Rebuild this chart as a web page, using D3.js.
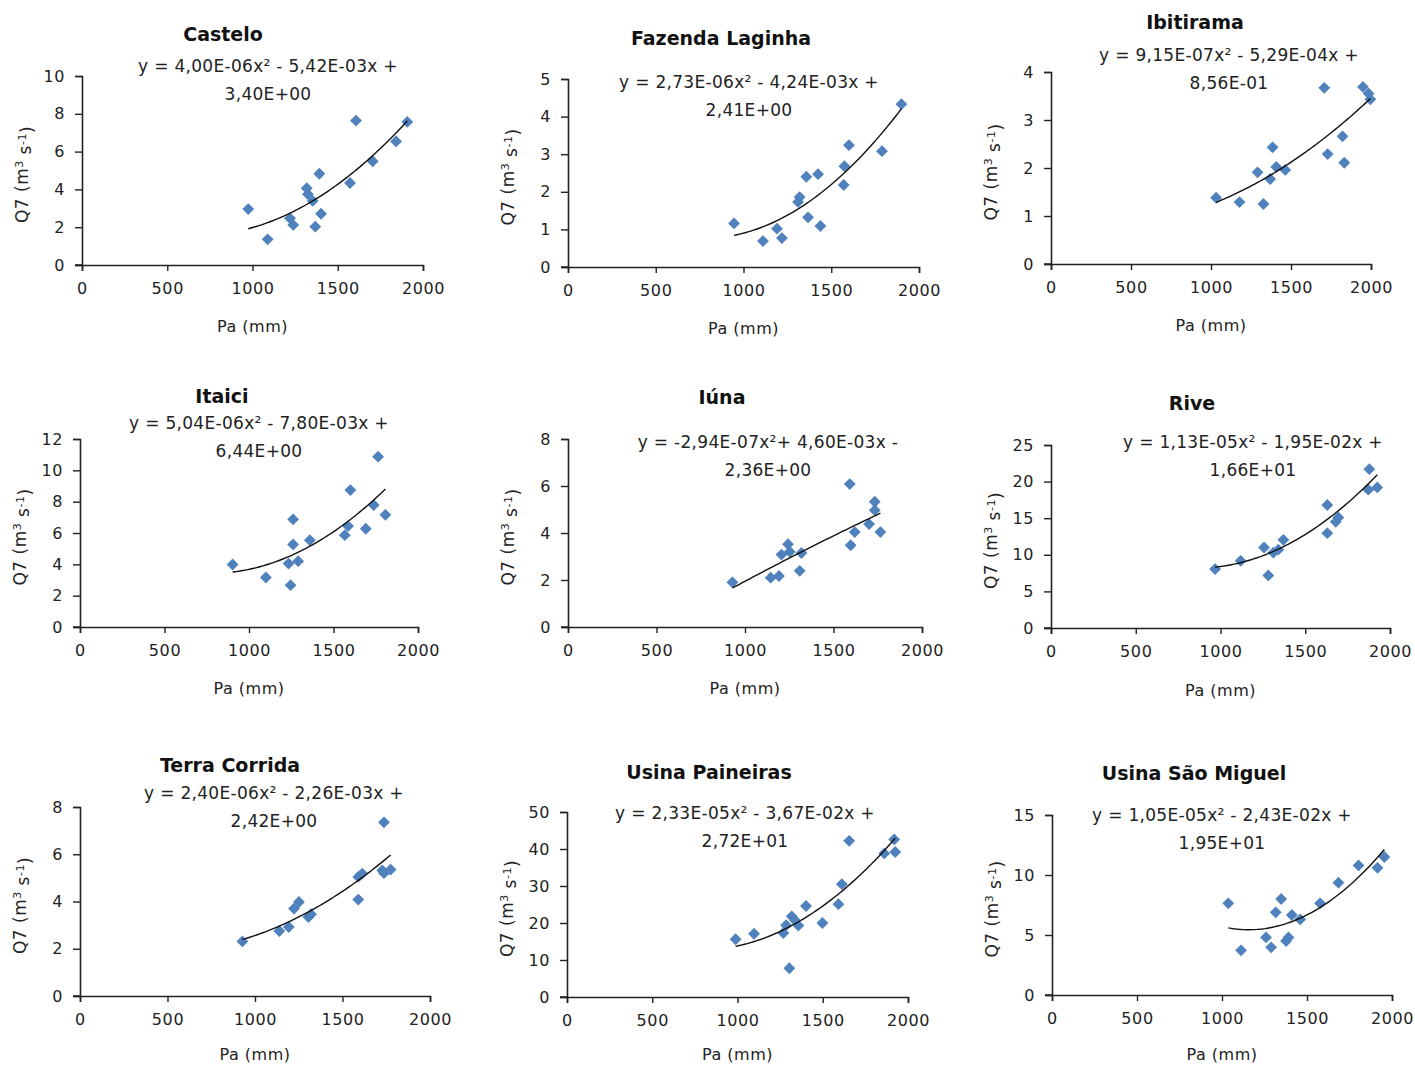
<!DOCTYPE html>
<html>
<head>
<meta charset="utf-8">
<script src="https://cdn.jsdelivr.net/npm/d3@7"></script>
<style>
  body { margin: 0; background: #fff; }
  text { font-family: "DejaVu Sans", Verdana, sans-serif; fill: #222; }
</style>
</head>
<body>
<div id="chart"></div>
<script>
// station names and the values
let stations = ["Castelo", "Fazenda Laginha", "Ibitirama", "Itaici", "Iúna", "Rive",
                "Terra Corrida", "Usina Paineiras", "Usina São Miguel"];

let casteloPa = [975, 1089, 1220, 1239, 1318, 1325, 1353, 1368, 1392, 1402, 1572, 1607, 1705, 1842, 1908];
let casteloQ7 = [2.96, 1.36, 2.47, 2.12, 4.06, 3.75, 3.39, 2.03, 4.83, 2.71, 4.34, 7.64, 5.49, 6.54, 7.57];

let laginhaPa = [946, 1111, 1191, 1219, 1311, 1320, 1358, 1368, 1425, 1438, 1571, 1575, 1601, 1789, 1900];
let laginhaQ7 = [1.16, 0.69, 1.02, 0.77, 1.73, 1.86, 2.40, 1.32, 2.47, 1.09, 2.18, 2.68, 3.24, 3.08, 4.33];

let ibitiramaPa = [1032, 1178, 1291, 1328, 1370, 1385, 1408, 1464, 1708, 1729, 1822, 1833, 1950, 1985, 1996];
let ibitiramaQ7 = [1.38, 1.29, 1.91, 1.25, 1.77, 2.43, 2.02, 1.96, 3.67, 2.29, 2.66, 2.11, 3.69, 3.55, 3.43];

let itaiciPa = [903, 1100, 1234, 1246, 1261, 1261, 1291, 1360, 1567, 1586, 1600, 1691, 1738, 1764, 1807];
let itaiciQ7 = [3.99, 3.16, 4.05, 2.67, 6.87, 5.27, 4.20, 5.54, 5.86, 6.44, 8.74, 6.27, 7.78, 10.87, 7.16];

let iunaPa = [929, 1145, 1192, 1206, 1243, 1253, 1309, 1319, 1592, 1597, 1620, 1701, 1733, 1733, 1765];
let iunaQ7 = [1.90, 2.10, 2.17, 3.08, 3.52, 3.20, 2.39, 3.15, 6.08, 3.48, 4.04, 4.38, 5.33, 4.97, 4.04];

let rivePa = [968, 1119, 1257, 1282, 1312, 1341, 1371, 1630, 1630, 1680, 1695, 1872, 1878, 1925];
let riveQ7 = [8.05, 9.18, 11.0, 7.18, 10.3, 10.7, 12.04, 16.8, 12.96, 14.5, 15.1, 18.9, 21.7, 19.2];

let terraPa = [928, 1139, 1193, 1223, 1251, 1305, 1320, 1590, 1590, 1613, 1727, 1737, 1737, 1775];
let terraQ7 = [2.31, 2.75, 2.92, 3.70, 3.98, 3.34, 3.46, 4.08, 5.04, 5.18, 5.32, 7.35, 5.20, 5.35];

let paineirasPa = [989, 1097, 1269, 1285, 1304, 1318, 1338, 1357, 1402, 1498, 1592, 1612, 1655, 1861, 1919, 1925];
let paineirasQ7 = [15.6, 17.1, 17.3, 19.4, 7.76, 21.8, 20.7, 19.3, 24.6, 20.0, 25.1, 30.5, 42.2, 38.8, 42.6, 39.2];

let miguelPa = [1037, 1112, 1259, 1289, 1316, 1348, 1377, 1391, 1411, 1460, 1577, 1685, 1803, 1915, 1955];
let miguelQ7 = [7.64, 3.72, 4.80, 3.97, 6.89, 8.00, 4.50, 4.80, 6.67, 6.30, 7.64, 9.36, 10.8, 10.6, 11.5];

// trendline coefficients a, b, c  (y = a x^2 + b x + c)
let coefA = [4.00e-6, 2.73e-6, 9.15e-7, 5.04e-6, -2.94e-7, 1.13e-5, 2.40e-6, 2.33e-5, 1.05e-5];
let coefB = [-5.42e-3, -4.24e-3, -5.29e-4, -7.80e-3, 4.60e-3, -1.95e-2, -2.26e-3, -3.67e-2, -2.43e-2];
let coefC = [3.40, 2.41, 0.856, 6.44, -2.36, 16.6, 2.42, 27.2, 19.5];

let eqLine1 = [
    "y = 4,00E-06x² - 5,42E-03x +",
    "y = 2,73E-06x² - 4,24E-03x +",
    "y = 9,15E-07x² - 5,29E-04x +",
    "y = 5,04E-06x² - 7,80E-03x +",
    "y = -2,94E-07x²+ 4,60E-03x -",
    "y = 1,13E-05x² - 1,95E-02x +",
    "y = 2,40E-06x² - 2,26E-03x +",
    "y = 2,33E-05x² - 3,67E-02x +",
    "y = 1,05E-05x² - 2,43E-02x +"];
let eqLine2 = ["3,40E+00", "2,41E+00", "8,56E-01", "6,44E+00", "2,36E+00",
               "1,66E+01", "2,42E+00", "2,72E+01", "1,95E+01"];

let yMax = [10, 5, 4, 12, 8, 25, 8, 50, 15];
let yStep = [2, 1, 1, 2, 2, 5, 2, 10, 5];
let xTicks = [0, 500, 1000, 1500, 2000];

let allPa = [casteloPa, laginhaPa, ibitiramaPa, itaiciPa, iunaPa, rivePa, terraPa, paineirasPa, miguelPa];
let allQ7 = [casteloQ7, laginhaQ7, ibitiramaQ7, itaiciQ7, iunaQ7, riveQ7, terraQ7, paineirasQ7, miguelQ7];

// panel layout (pixels): plot box, title and equation anchors, x title offset
let layout = [
    {l: 82, r: 423, t: 76, b: 265, tx: 223, ty: 34, ex: 268, ey: 66, xt: 61},
    {l: 568, r: 919, t: 79, b: 267, tx: 721, ty: 38, ex: 749, ey: 82, xt: 61},
    {l: 1051, r: 1371, t: 72, b: 264, tx: 1195, ty: 22, ex: 1229, ey: 55, xt: 61},
    {l: 80, r: 418, t: 439, b: 627, tx: 222, ty: 396, ex: 259, ey: 423, xt: 61},
    {l: 568, r: 922, t: 439, b: 627, tx: 722, ty: 397, ex: 768, ey: 442, xt: 61},
    {l: 1051, r: 1390, t: 445, b: 628, tx: 1192, ty: 403, ex: 1253, ey: 442, xt: 62},
    {l: 80, r: 430, t: 807, b: 996, tx: 230, ty: 765, ex: 274, ey: 793, xt: 58},
    {l: 567, r: 908, t: 812, b: 997, tx: 709, ty: 772, ex: 745, ey: 813, xt: 57},
    {l: 1052, r: 1392, t: 815, b: 995, tx: 1194, ty: 773, ex: 1222, ey: 815, xt: 59}
];

let width = 1415;
let height = 1066;
let markerColor = "#4f81bd";

let svg = d3.select("#chart")
    .append("svg")
    .attr("width", width)
    .attr("height", height);

stations.forEach(function(name, i) {
    let p = layout[i];
    let x = d3.scaleLinear().domain([0, 2000]).range([p.l, p.r]);
    let y = d3.scaleLinear().domain([0, yMax[i]]).range([p.b, p.t]);
    let g = svg.append("g").attr("class", "panel");

    // title
    g.append("text")
        .attr("x", p.tx).attr("y", p.ty)
        .attr("dy", "0.35em")
        .attr("text-anchor", "middle")
        .style("font-weight", "bold")
        .style("font-size", "19px")
        .style("fill", "#111")
        .text(name);

    // axes
    let yTicks = d3.range(0, yMax[i] + yStep[i] / 2, yStep[i]);
    let yAxis = g.append("g")
        .attr("transform", "translate(" + p.l + ",0)")
        .call(d3.axisLeft(y).tickValues(yTicks).tickFormat(d3.format("d"))
            .tickSizeOuter(0).tickSize(7).tickPadding(10));
    let xAxis = g.append("g")
        .attr("transform", "translate(0," + p.b + ")")
        .call(d3.axisBottom(x).tickValues(xTicks).tickFormat(d3.format("d"))
            .tickSizeOuter(0).tickSize(6).tickPadding(12));
    [xAxis, yAxis].forEach(function(ax) {
        ax.select(".domain").attr("stroke", "#222").attr("stroke-width", 1.6);
        ax.selectAll(".tick line").attr("stroke", "#222").attr("stroke-width", 1.4);
        ax.selectAll(".tick text")
            .style("font-size", "16px")
            .style("letter-spacing", "0.6px")
            .style("font-family", "DejaVu Sans, sans-serif")
            .style("fill", "#222");
    });
    // small stub left of the y axis at 0, as a tick
    g.append("line")
        .attr("x1", p.l - 7).attr("x2", p.l)
        .attr("y1", p.b).attr("y2", p.b)
        .attr("stroke", "#222").attr("stroke-width", 1.4);

    // axis titles
    g.append("text")
        .attr("x", (p.l + p.r) / 2).attr("y", p.b + p.xt)
        .attr("dy", "0.35em")
        .attr("text-anchor", "middle")
        .style("font-size", "16px")
        .style("letter-spacing", "0.5px")
        .text("Pa (mm)");

    let yt = g.append("text")
        .attr("transform", "translate(" + (p.l - 60) + "," + ((p.t + p.b) / 2 + 4) + ") rotate(-90)")
        .attr("dy", "0.35em")
        .attr("text-anchor", "middle")
        .style("font-size", "17px")
        .style("letter-spacing", "0.5px");
    yt.append("tspan").text("Q7 (m");
    yt.append("tspan").attr("dy", "-0.45em").style("font-size", "11px").text("3");
    yt.append("tspan").attr("dy", "0.45em").text(" s");
    yt.append("tspan").attr("dy", "-0.45em").style("font-size", "11px").text("-1");
    yt.append("tspan").attr("dy", "0.45em").text(")");

    // points
    let pts = allPa[i].map(function(v, k) { return {pa: v, q7: allQ7[i][k]}; });
    g.selectAll("path.pt")
        .data(pts)
        .enter().append("path")
        .attr("class", "pt")
        .attr("d", d3.symbol().type(d3.symbolSquare).size(70))
        .attr("transform", function(d) {
            return "translate(" + x(d.pa) + "," + y(d.q7) + ") rotate(45)";
        })
        .attr("fill", markerColor);

    // polynomial trendline from the displayed equation
    let lo = d3.min(allPa[i]), hi = d3.max(allPa[i]);
    let curve = d3.range(lo, hi + 1, (hi - lo) / 60).map(function(v) {
        return [v, coefA[i] * v * v + coefB[i] * v + coefC[i]];
    });
    g.append("path")
        .datum(curve)
        .attr("fill", "none")
        .attr("stroke", "#111")
        .attr("stroke-width", 1.4)
        .attr("d", d3.line().x(function(d) { return x(d[0]); }).y(function(d) { return y(d[1]); }));

    // equation label
    g.append("text")
        .attr("x", p.ex).attr("y", p.ey)
        .attr("dy", "0.35em")
        .attr("text-anchor", "middle")
        .style("font-size", "17px")
        .style("letter-spacing", "0.3px")
        .text(eqLine1[i]);
    g.append("text")
        .attr("x", p.ex).attr("y", p.ey + 28)
        .attr("dy", "0.35em")
        .attr("text-anchor", "middle")
        .style("font-size", "17px")
        .style("letter-spacing", "0.3px")
        .text(eqLine2[i]);
});
</script>
</body>
</html>
